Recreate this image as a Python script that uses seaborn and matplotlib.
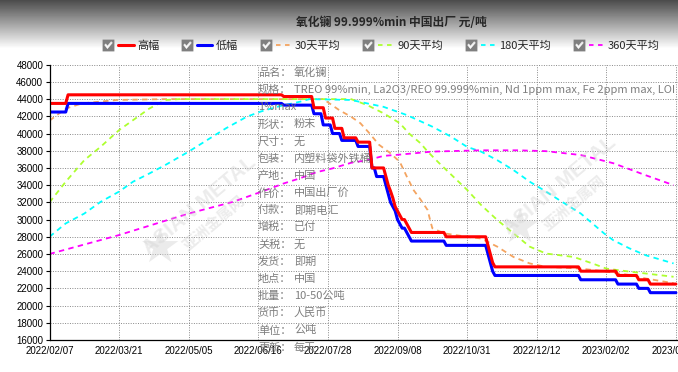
import matplotlib
matplotlib.use("Agg")
import matplotlib.pyplot as plt
import numpy as np
import pandas as pd
import seaborn as sns
from matplotlib.legend_handler import HandlerTuple
from matplotlib.lines import Line2D
from matplotlib.path import Path

# ── Data (trading-day index on x) ─────────────────────────────────────────────

N_DAYS = 271
TICK_STEP = 30
DATE_LABELS = ["2022/02/07", "2022/03/21", "2022/05/05", "2022/06/16", "2022/07/28",
               "2022/09/08", "2022/10/31", "2022/12/12", "2023/02/02", "2023/03/16"]

# price changes: day on which a new price starts, and that price
HIGH_START = [0, 8, 101, 114, 119, 123, 127, 133, 139, 145, 146, 147, 148, 149, 150,
              151, 152, 154, 155, 156, 171, 189, 190, 191, 192, 229, 245, 254, 259]
HIGH_PRICE = [43500, 44500, 44300, 43000, 41800, 40600, 39500, 39000, 36000, 35000,
              34000, 33300, 32500, 31500, 31000, 30500, 30000, 29500, 29000, 28500,
              28000, 27000, 26000, 25000, 24500, 24000, 23500, 23000, 22500]

LOW_START = [0, 8, 101, 114, 118, 122, 126, 133, 139, 141, 145, 146, 147, 148, 149,
             150, 151, 152, 154, 155, 156, 171, 189, 190, 191, 192, 229, 245, 254, 259]
LOW_PRICE = [42500, 43500, 43300, 42300, 41000, 40000, 39200, 38500, 36000, 35000,
             34000, 33000, 32000, 31500, 31000, 30000, 29500, 29000, 28500, 28000,
             27500, 27000, 26000, 25000, 24000, 23500, 23000, 22500, 22000, 21500]

# moving averages
MA30_X = [0, 7, 14, 29, 50, 118, 125, 130, 134, 138, 142, 147, 151, 154, 157, 160,
          163, 164, 165, 170, 180, 186, 193, 200, 207, 214, 229, 240, 250, 257, 269]
MA30_Y = [41500, 42900, 43500, 43900, 44000, 44000, 42700, 41950, 41200, 40000,
          38700, 37700, 36700, 35000, 33400, 32300, 31100, 30000, 29000, 28400,
          28000, 27800, 26850, 25650, 24900, 24500, 24300, 23950, 23550, 23150, 22600]

MA90_X = [0, 7, 15, 22, 30, 36, 43, 50, 56, 130, 137, 144, 151, 155, 160, 163, 168,
          174, 180, 186, 193, 200, 207, 214, 226, 234, 240, 250, 269]
MA90_Y = [32000, 34400, 36900, 38450, 40400, 41550, 42900, 43900, 44000, 44000,
          43300, 42350, 41200, 40000, 38850, 37900, 36550, 35000, 33450, 31700,
          29950, 28400, 26850, 26050, 25650, 24900, 24300, 23950, 23350]

MA180_X = [0, 7, 15, 22, 30, 36, 43, 50, 60, 68, 76, 85, 91, 98, 108, 112, 130, 144,
           154, 165, 173, 180, 186, 193, 200, 207, 214, 221, 229, 234, 239, 243, 250,
           257, 269]
MA180_Y = [28000, 29550, 30700, 32050, 33250, 34400, 35350, 36350, 37900, 39250,
           40600, 41950, 42550, 43100, 43700, 44000, 43900, 43100, 42150, 40800,
           39650, 38450, 37900, 36900, 35750, 34400, 33250, 32050, 30700, 29550,
           28400, 27600, 26650, 25850, 24900]

MA360_X = [0, 30, 60, 79, 91, 101, 108, 115, 122, 130, 137, 144, 151, 165, 186, 202,
           214, 229, 243, 257, 269]
MA360_Y = [26000, 28200, 30700, 32050, 33200, 34200, 34800, 35500, 35950, 36600,
           36900, 37400, 37550, 37900, 38050, 38050, 37950, 37500, 36550, 35150, 34000]

TITLE = "氧化镧 99.999%min 中国出厂 元/吨"
SERIES_LABELS = ["高幅", "低幅", "30天平均", "90天平均", "180天平均", "360天平均"]

INFO_KEYS = ["品名", "规格", "", "形状", "尺寸", "包装", "产地", "作价", "付款", "增税",
             "关税", "发货", "地点", "批量", "货币", "单位", "更新"]
INFO_VALS = ["氧化镧",
             "TREO 99%min, La2O3/REO 99.999%min, Nd 1ppm max, Fe 2ppm max, LOI",
             "1%max", "粉末", "无", "内塑料袋外铁桶", "中国", "中国出厂价", "即期电汇",
             "已付", "无", "即期", "中国", "10-50公吨", "人民币", "公吨", "每天"]


def expand_steps(starts, prices, n):
    """Hold each price from its start day until the next change."""
    lengths = np.diff(list(starts) + [n])
    return np.repeat(prices, lengths)


def checkbox_marker():
    """Grey box with a check mark cut out of it."""
    square = [(-1, -1), (1, -1), (1, 1), (-1, 1), (-1, -1)]
    tick = [(-0.72, 0.08), (-0.18, -0.6), (0.72, 0.45), (0.45, 0.72),
            (-0.18, -0.02), (-0.45, 0.35)][::-1]
    verts = square + tick + [tick[0]]
    codes = ([Path.MOVETO] + [Path.LINETO] * 3 + [Path.CLOSEPOLY]
             + [Path.MOVETO] + [Path.LINETO] * 5 + [Path.CLOSEPOLY])
    return Path(verts, codes)


sns.set_style("ticks")
plt.rcParams["font.family"] = ["Liberation Sans", "Noto Sans CJK SC", "DejaVu Sans"]
CJK = ["Noto Sans CJK SC", "DejaVu Sans"]

W, H = 678, 372
fig = plt.figure(figsize=(W / 100, H / 100), dpi=100)

# grey header gradient
bg = fig.add_axes([0, 0, 1, 1], zorder=-1)
bg.set_axis_off()
shade = np.clip(0.3 + 0.7 * np.arange(H) / 48, 0, 1)
bg.imshow(shade[:, None], cmap="gray", vmin=0, vmax=1, aspect="auto",
          extent=[0, 1, 0, 1])

ax = fig.add_axes([49.5 / W, 32 / H, 628.5 / W, 275.3 / H])

days = np.arange(N_DAYS)
df = pd.DataFrame({
    "day": days,
    "high": expand_steps(HIGH_START, HIGH_PRICE, N_DAYS),
    "low": expand_steps(LOW_START, LOW_PRICE, N_DAYS),
})

dash = (0, (3, 2.4))
ma_styles = [
    (MA30_X, MA30_Y, "#f4a460"),
    (MA90_X, MA90_Y, "#adff2f"),
    (MA180_X, MA180_Y, "#00ffff"),
    (MA360_X, MA360_Y, "#ff00ff"),
]
for xs, ys, col in ma_styles:
    sns.lineplot(x=xs, y=ys, color=col, lw=1.3, linestyle=dash, ax=ax,
                 estimator=None, errorbar=None)

sns.lineplot(data=df, x="day", y="low", color="#0000ff", lw=2.2, ax=ax,
             estimator=None, errorbar=None)
sns.lineplot(data=df, x="day", y="high", color="#ff0000", lw=2.2, ax=ax,
             estimator=None, errorbar=None)

ax.set_xlim(0, 628.5 / 2.32)
ax.set_ylim(16000, 48000)
ax.set_yticks(np.arange(16000, 48001, 2000))
ax.set_xticks(np.arange(0, N_DAYS, TICK_STEP))
ax.set_xticklabels(DATE_LABELS)
ax.set_xlabel("")
ax.set_ylabel("")
ax.grid(True, linestyle=(0, (1, 1.5)), color="#888888", lw=0.7)
for side in ["top", "right"]:
    ax.spines[side].set_visible(False)
for side in ["left", "bottom"]:
    ax.spines[side].set_color("black")
    ax.spines[side].set_linewidth(0.9)
ax.tick_params(axis="y", length=3, width=0.8, labelsize=7, pad=1.5, colors="black")
ax.tick_params(axis="x", length=0, labelsize=7, pad=4, colors="black")

# watermark
for (wx, wy) in [(200, 205), (560, 185)]:
    fig.text(wx / W, 1 - wy / H, "ASIAN METAL", rotation=40, fontsize=15,
             fontweight="bold", color="#c8c8c8", alpha=0.35, ha="center", va="center")
    fig.text((wx + 14) / W, 1 - (wy + 18) / H, "亚洲金属网", rotation=40, fontsize=11,
             fontweight="bold", color="#c8c8c8", alpha=0.35, ha="center", va="center",
             family=CJK)
    fig.text((wx - 40) / W, 1 - (wy + 45) / H, "★", fontsize=34, color="#d8d8d8",
             alpha=0.5, ha="center", va="center", family=["DejaVu Sans"])

# product info block
for i, (key, val) in enumerate(zip(INFO_KEYS, INFO_VALS)):
    y = 1 - (73 + i * 17.15) / H
    if key:
        fig.text(258 / W, y, key + "：", fontsize=8, color="#707070", va="center",
                 family=CJK, alpha=0.9)
        fig.text(294 / W, y, val, fontsize=8, color="#707070", va="center",
                 family=CJK, alpha=0.9)
    else:
        fig.text(258 / W, y, val, fontsize=8, color="#707070", va="center",
                 family=CJK, alpha=0.9)

fig.text(391 / W, 1 - 22 / H, TITLE, ha="center", va="center", fontsize=8.5,
         fontweight="bold", family=CJK)

# legend with checkbox icons
box = checkbox_marker()
colors = ["#ff0000", "#0000ff", "#f4a460", "#adff2f", "#00ffff", "#ff00ff"]
handles = []
for k, col in enumerate(colors):
    check = Line2D([], [], marker=box, color="#7f7f7f", markersize=8.5,
                   markeredgewidth=0, linestyle="none")
    if k < 2:
        line = Line2D([], [], color=col, lw=2.2)
    else:
        line = Line2D([], [], color=col, lw=1.3, linestyle=(0, (2.5, 2.5)))
    handles.append((check, line))
leg = fig.legend(handles, SERIES_LABELS, handler_map={tuple: HandlerTuple(ndivide=None, pad=0.2)},
                 ncol=6, loc="center", bbox_to_anchor=(380 / W, 1 - 46 / H),
                 frameon=False, fontsize=8, handlelength=3.0, handletextpad=0.3,
                 columnspacing=1.8, borderaxespad=0)
for t in leg.get_texts():
    t.set_family(CJK)

fig.savefig("out.png", dpi=100)
